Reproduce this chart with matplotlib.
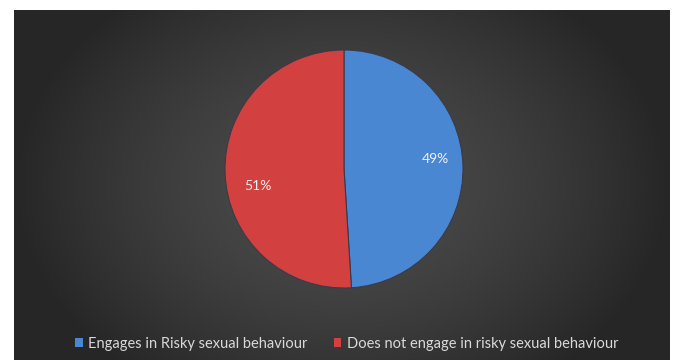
import numpy as np
import matplotlib.pyplot as plt
from matplotlib.patches import Patch

# Datos del gráfico
categorias = ['Engages in Risky sexual behaviour', 'Does not engage in risky sexual behaviour']
porcentajes = [49, 51]
colores = ['#4a87d3', '#d2413f']

plt.rcParams['font.family'] = ['Lato', 'DejaVu Sans']

fig = plt.figure(figsize=(6.75, 3.6), dpi=100)
fig.patch.set_facecolor('white')

# Fondo oscuro con degradado radial (centro ~#4c4c4c, bordes ~#262626)
ax_fondo = fig.add_axes([14 / 675, 0, (670 - 14) / 675, 350 / 360])
yy, xx = np.mgrid[-1:1:200j, -1:1:400j]
dist = np.clip(np.sqrt(xx ** 2 + (yy / 1.4) ** 2), 0, 1)
nivel = 0.30 - 0.15 * dist ** 1.5
img = np.dstack([nivel, nivel, nivel])
ax_fondo.imshow(img, aspect='auto', extent=[0, 1, 0, 1])
ax_fondo.set_axis_off()

# Gráfico circular
r = 119
cx, cy = 344, 169
ax = fig.add_axes([(cx - r) / 675, (360 - cy - r) / 360, 2 * r / 675, 2 * r / 360])
wedges, textos, pcts = ax.pie(porcentajes, colors=colores, startangle=90, counterclock=False,
                              autopct='%1.0f%%', pctdistance=0.77,
                              wedgeprops=dict(edgecolor='#3a3a4a', linewidth=0.8),
                              textprops=dict(color='#f0f0f0', fontsize=10))
# ajuste tipo "best fit" de Excel
desplaz = [(0.0, 0.06), (0.05, -0.12)]
for t, (dx, dy) in zip(pcts, desplaz):
    x, y = t.get_position()
    t.set_position((x + dx, y + dy))
ax.set_aspect('auto')
ax.set_xlim(-1, 1)
ax.set_ylim(-1, 1)

# Leyenda
handles = [Patch(facecolor=c, edgecolor='none') for c in colores]
fig.legend(handles, categorias, loc='center', bbox_to_anchor=(0.514, 1 - 344 / 360),
           ncol=2, frameon=False, fontsize=10.5, labelcolor='#d9d9d9',
           handlelength=0.5, handleheight=0.6, handletextpad=0.4, columnspacing=1.8)

fig.savefig('out.png', dpi=100)
